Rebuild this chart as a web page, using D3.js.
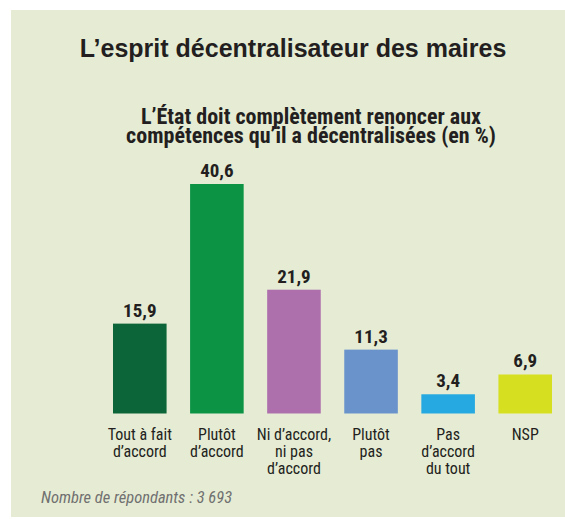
<!DOCTYPE html>
<html>
<head>
<meta charset="utf-8">
<script src="https://cdn.jsdelivr.net/npm/d3@7"></script>
<style>
  body { margin: 0; background: #fff; }
  svg text { fill: #231f20; }
</style>
</head>
<body>
<svg id="chart" width="565" height="519"></svg>
<script>
// data
var categories = [
    ["Tout à fait", "d\u2019accord"],
    ["Plutôt", "d\u2019accord"],
    ["Ni d\u2019accord,", "ni pas", "d\u2019accord"],
    ["Plutôt", "pas"],
    ["Pas", "d\u2019accord", "du tout"],
    ["NSP"]
];
var values = [15.9, 40.6, 21.9, 11.3, 3.4, 6.9];
var barColours = ["#0b6538", "#0c9444", "#ad70ad", "#6a93cc", "#25a9e0", "#d7df21"];

var title = "L\u2019esprit décentralisateur des maires";
var subtitle = ["L\u2019État doit complètement renoncer aux", "compétences qu\u2019il a décentralisées (en %)"];
var note = "Nombre de répondants : 3 693";

var narrow = "'Liberation Sans Narrow', 'Arial Narrow', 'Roboto Condensed', sans-serif";

var svg = d3.select("#chart");

// background panel
svg.append("rect")
    .attr("x", 11).attr("y", 10)
    .attr("width", 554).attr("height", 507)
    .attr("fill", "#e6ecd4");

svg.append("text")
    .attr("x", 293).attr("y", 57)
    .attr("text-anchor", "middle")
    .style("font-family", "'Liberation Sans', Arial, sans-serif")
    .style("font-weight", "bold")
    .style("font-size", "25px")
    .text(title);

svg.append("g").selectAll("text")
    .data(subtitle)
    .enter()
    .append("text")
    .attr("x", 311)
    .attr("y", function (d, i) { return 124 + i * 19 })
    .attr("text-anchor", "middle")
    .style("font-family", narrow)
    .style("font-weight", "bold")
    .style("font-size", "22px")
    .text(function (d) { return d });

// scales
var x = d3.scaleBand()
    .domain(d3.range(categories.length))
    .range([113, 552])
    .paddingInner(0.305)
    .paddingOuter(0);

var y = d3.scaleLinear()
    .domain([0, d3.max(values)])
    .range([413.5, 184]);

var fr = d3.formatLocale({ decimal: ",", thousands: " ", grouping: [3], currency: ["", ""] });
var fmt = fr.format(".1f");

svg.append("g").selectAll("rect")
    .data(values)
    .enter()
    .append("rect")
    .attr("x", function (d, i) { return x(i) })
    .attr("y", function (d) { return y(d) })
    .attr("width", x.bandwidth())
    .attr("height", function (d) { return y(0) - y(d) })
    .attr("fill", function (d, i) { return barColours[i] });

svg.append("g").selectAll("text")
    .data(values)
    .enter()
    .append("text")
    .attr("x", function (d, i) { return x(i) + x.bandwidth() / 2 })
    .attr("y", function (d) { return y(d) - 7 })
    .attr("text-anchor", "middle")
    .style("font-family", narrow)
    .style("font-weight", "bold")
    .style("font-size", "19px")
    .text(function (d) { return fmt(d) });

// category labels under the bars
var labels = svg.append("g").selectAll("text")
    .data(categories)
    .enter()
    .append("text")
    .attr("text-anchor", "middle")
    .style("font-family", narrow)
    .style("font-size", "16px")
    .attr("transform", function (d, i) { return "translate(" + (x(i) + x.bandwidth() / 2) + ",440)" });

labels.selectAll("tspan")
    .data(function (d) { return d })
    .enter()
    .append("tspan")
    .attr("x", 0)
    .attr("y", function (d, i) { return i * 17 })
    .text(function (d) { return d });

svg.append("text")
    .attr("x", 41).attr("y", 503)
    .style("font-family", narrow)
    .style("font-style", "italic")
    .style("font-size", "16.5px")
    .style("fill", "#707070")
    .text(note);
</script>
</body>
</html>
